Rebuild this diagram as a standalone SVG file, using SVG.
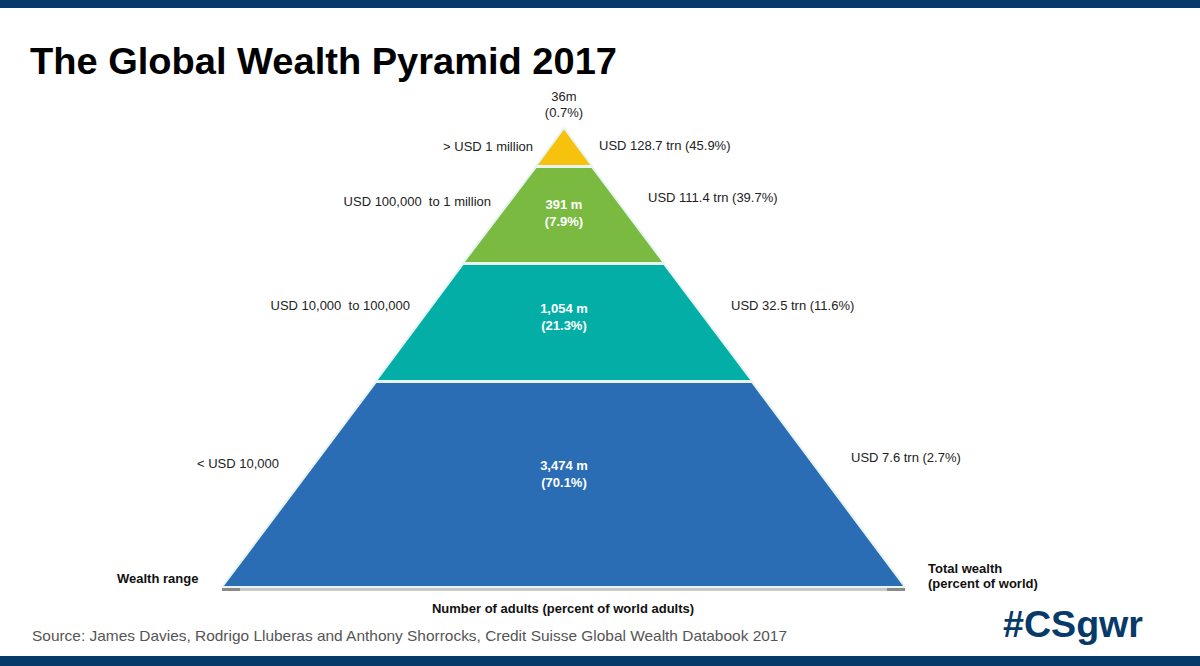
<svg xmlns="http://www.w3.org/2000/svg" width="1200" height="666" viewBox="0 0 1200 666">
<style>
text{white-space:pre}
.lbl{font-family:"Liberation Sans",Arial,sans-serif;font-size:13px;fill:#222}
.in{font-family:"Liberation Sans",Arial,sans-serif;font-size:13px;font-weight:bold;fill:#fff;text-anchor:middle}
.ax{font-family:"Liberation Sans",Arial,sans-serif;font-size:13px;fill:#111;font-weight:bold}
.seg{stroke:#e6f4f2;stroke-width:2;stroke-linejoin:round}
</style>
<rect x="0" y="0" width="1200" height="666" fill="#fff"/>
<rect x="0" y="0" width="1200" height="8" fill="#063a6a"/>
<rect x="0" y="656" width="1200" height="10" fill="#063a6a"/>
<text x="30" y="74" font-family="Liberation Sans,Arial,sans-serif" font-size="36" font-weight="bold" fill="#000" textLength="587" lengthAdjust="spacingAndGlyphs">The Global Wealth Pyramid 2017</text>

<g id="base-shadow">
<rect x="222" y="587" width="683" height="4" fill="#c8c8c8"/>
<rect x="222" y="587" width="18" height="4" fill="#8a8a8a"/>
<rect x="887" y="587" width="18" height="4" fill="#8a8a8a"/>
</g>

<g id="tier-top">
<polygon class="seg" points="564,128 592,166 536,166" fill="#f6c20e"/>
<text class="lbl" x="564" y="101" text-anchor="middle">36m</text>
<text class="lbl" x="564" y="117" text-anchor="middle">(0.7%)</text>
<text class="lbl" x="533" y="151" text-anchor="end">&gt; USD 1 million</text>
<text class="lbl" x="599" y="150">USD 128.7 trn (45.9%)</text>
</g>

<g id="tier-2">
<polygon class="seg" points="536,167 592,167 664,263 463,263" fill="#7aba41"/>
<text class="in" x="564" y="209">391 m</text>
<text class="in" x="564" y="226">(7.9%)</text>
<text class="lbl" x="491" y="206" text-anchor="end">USD 100,000  to 1 million</text>
<text class="lbl" x="648" y="202">USD 111.4 trn (39.7%)</text>
</g>

<g id="tier-3">
<polygon class="seg" points="463,264 664,264 752,381 376,381" fill="#03aea6"/>
<text class="in" x="564" y="313">1,054 m</text>
<text class="in" x="564" y="330">(21.3%)</text>
<text class="lbl" x="410" y="310" text-anchor="end">USD 10,000  to 100,000</text>
<text class="lbl" x="731" y="310">USD 32.5 trn (11.6%)</text>
</g>

<g id="tier-base">
<polygon class="seg" points="376,382 752,382 905,587 222,587" fill="#2b6db5"/>
<text class="in" x="564" y="470">3,474 m</text>
<text class="in" x="564" y="487">(70.1%)</text>
<text class="lbl" x="197" y="468">&lt; USD 10,000</text>
<text class="lbl" x="851" y="462">USD 7.6 trn (2.7%)</text>
</g>

<g id="axis-labels">
<text class="ax" x="117" y="583">Wealth range</text>
<text class="ax" x="928" y="573">Total wealth</text>
<text class="ax" x="928" y="588">(percent of world)</text>
<text class="ax" x="563" y="613" text-anchor="middle">Number of adults (percent of world adults)</text>
</g>

<text x="32" y="641" font-family="Liberation Sans,Arial,sans-serif" font-size="15" fill="#555" textLength="755" lengthAdjust="spacingAndGlyphs">Source: James Davies, Rodrigo Lluberas and Anthony Shorrocks, Credit Suisse Global Wealth Databook 2017</text>
<text x="1003" y="637" font-family="Liberation Sans,Arial,sans-serif" font-size="36" font-weight="bold" fill="#063a6a" textLength="140" lengthAdjust="spacingAndGlyphs">#CSgwr</text>
</svg>
